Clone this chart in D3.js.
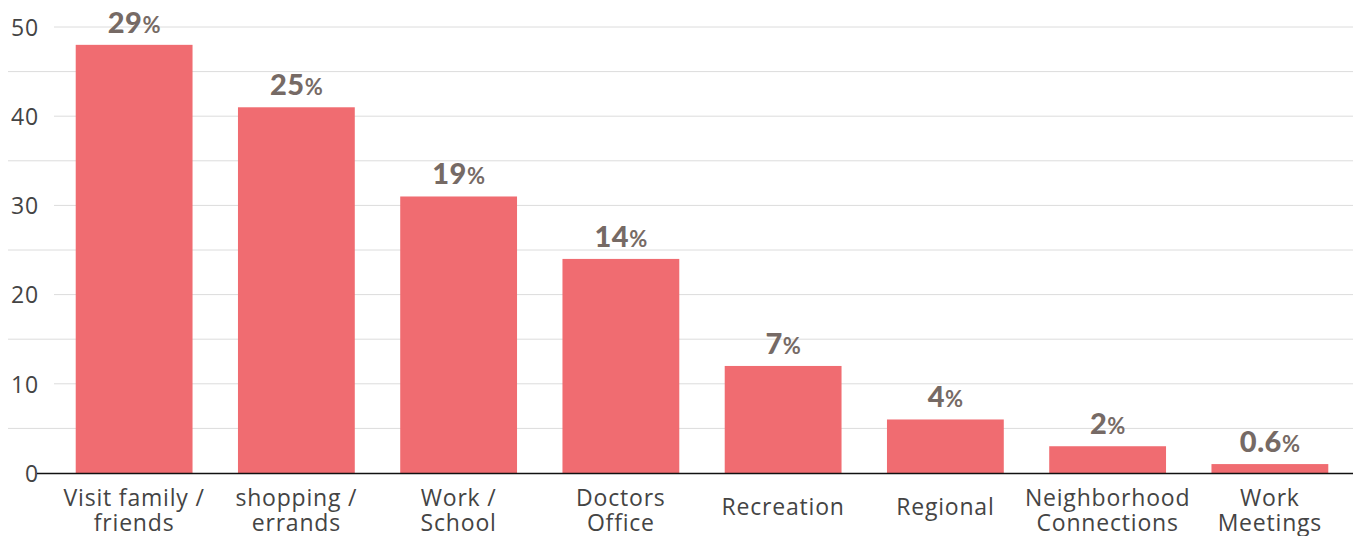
<!DOCTYPE html>
<html><head><meta charset="utf-8">
<script src="https://cdn.jsdelivr.net/npm/d3@7"></script>
<style>body{margin:0;background:#fff;} svg{display:block;}</style>
</head><body>
<svg id="c" width="1353" height="536"></svg>
<script>
const categories = [["Visit family /","friends"],["shopping /","errands"],["Work /","School"],["Doctors","Office"],["Recreation"],["Regional"],["Neighborhood","Connections"],["Work","Meetings"]];
const values = [48, 41, 31, 24, 12, 6, 3, 1];
const pctLabels = ["29","25","19","14","7","4","2","0.6"];
const yTicks = [0,10,20,30,40,50];
const yMinor = [5,15,25,35,45];

const font = "'Open Sans', sans-serif";
const vfont = "Lato, sans-serif";
const svg = d3.select("#c");
const ids = d3.range(categories.length);
const x = d3.scaleBand().domain(ids).range([53, 1351]).paddingInner(0.28).paddingOuter(0.14);
const y = d3.scaleLinear().domain([0,50]).range([473, 27]);

svg.append("g").selectAll("line").data(yMinor).join("line")
  .attr("x1", 8).attr("x2", 1353).attr("y1", d=>y(d)).attr("y2", d=>y(d))
  .attr("stroke", "#dcdcdc").attr("stroke-width", 1);
svg.append("g").selectAll("line").data(yTicks.filter(d=>d>0)).join("line")
  .attr("x1", 54).attr("x2", 1353).attr("y1", d=>y(d)).attr("y2", d=>y(d))
  .attr("stroke", "#dcdcdc").attr("stroke-width", 1);

const yAxis = d3.axisLeft(y).tickValues(yTicks).tickSize(0).tickPadding(0);
const ga = svg.append("g").attr("transform", "translate(39,0)").call(yAxis);
ga.select(".domain").remove();
ga.selectAll("text").attr("font-family", font).attr("font-size", 23).attr("fill", "#444")
  .attr("dy", "0.36em").attr("letter-spacing", "0.8px");

svg.append("g").selectAll("rect").data(values).join("rect")
  .attr("x", (d,i)=>x(i)).attr("width", x.bandwidth())
  .attr("y", d=>y(d)).attr("height", d=>y(0)-y(d))
  .attr("fill", "#f06c71");

svg.append("line").attr("x1", 37).attr("x2", 1353).attr("y1", y(0)+0.5).attr("y2", y(0)+0.5)
  .attr("stroke", "#111").attr("stroke-width", 1.5);

const vl = svg.append("g").selectAll("text").data(values).join("text")
  .attr("x", (d,i)=>x(i)+x.bandwidth()/2).attr("y", d=>y(d)-12)
  .attr("text-anchor", "middle").attr("font-family", vfont).attr("fill", "#766a65");
vl.append("tspan").attr("font-size", 29).attr("font-weight", 900).attr("letter-spacing", "0.5px").text((d,i)=>pctLabels[i]);
vl.append("tspan").attr("font-size", 22).attr("font-weight", 700).text("%");

const xl = svg.append("g").selectAll("text").data(categories).join("text")
  .attr("x", (d,i)=>x(i)+x.bandwidth()/2)
  .attr("y", d=> d.length===1 ? 515 : 506)
  .attr("text-anchor", "middle").attr("font-family", font).attr("font-size", 23).attr("fill", "#444")
  .attr("letter-spacing", "0.8px");
xl.selectAll("tspan").data(d=>d).join("tspan")
  .attr("x", function(){ return this.parentNode.getAttribute("x"); })
  .attr("dy", (d,i)=> i===0 ? 0 : 25).text(d=>d);
</script>
</body></html>
